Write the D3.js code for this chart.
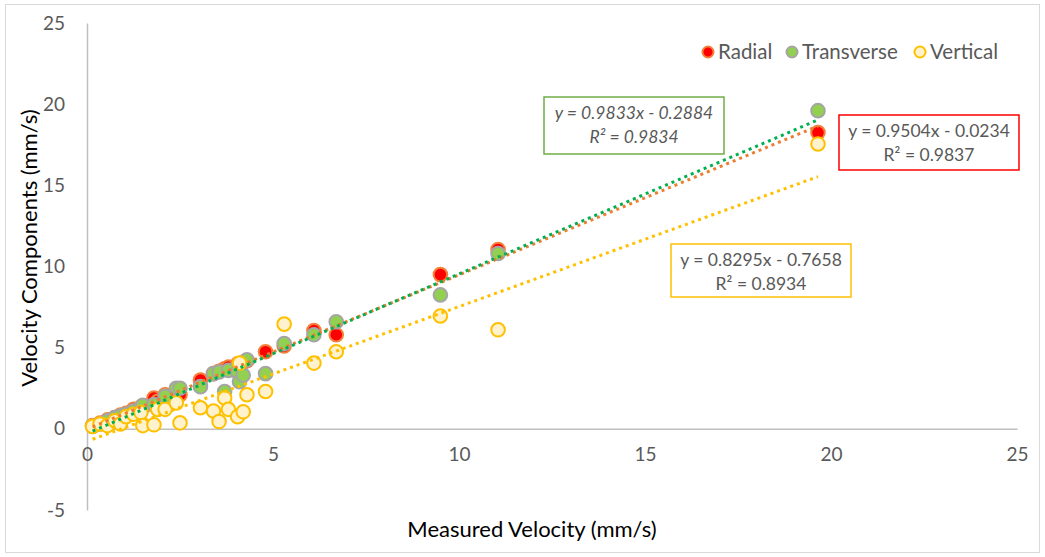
<!DOCTYPE html>
<html>
<head>
<meta charset="utf-8">
<script src="https://cdn.jsdelivr.net/npm/d3@7"></script>
<style>
  body { margin: 0; background: #fff; }
  svg { display: block; font-family: Lato, "Open Sans", sans-serif; }
</style>
</head>
<body>
<svg id="chart" width="1045" height="557"></svg>
<script>
// ---- Data ----
const measured   = [0.15, 0.35, 0.55, 0.75, 0.9, 1.05, 1.25, 1.45, 1.5, 1.8, 1.9, 2.1, 2.4, 2.5, 3.05, 3.4, 3.55, 3.7, 3.8, 4.05, 4.1, 4.2, 4.3, 4.8, 5.3, 6.1, 6.7, 9.5, 11.05, 19.65];
const radial     = [0.2, 0.35, 0.55, 0.7, 0.85, 0.95, 1.2, 1.35, 1.3, 1.9, 1.7, 2.1, 2.3, 2.1, 3.0, 3.4, 3.55, 3.7, 3.8, 4.0, 3.9, 4.1, 4.2, 4.75, 5.1, 6.05, 5.8, 9.5, 11.05, 18.25];
const transverse = [0.15, 0.3, 0.5, 0.7, 0.8, 0.9, 1.1, 1.3, 1.45, 1.5, 1.2, 2.0, 2.5, 2.5, 2.6, 3.4, 3.5, 2.3, 3.6, 3.5, 2.9, 3.3, 4.25, 3.4, 5.25, 5.8, 6.6, 8.25, 10.8, 19.6];
const vertical   = [0.15, 0.3, 0.2, 0.5, 0.3, 0.75, 0.9, 1.0, 0.2, 0.25, 1.2, 1.2, 1.6, 0.37, 1.3, 1.1, 0.45, 1.9, 1.2, 0.75, 4.05, 1.05, 2.1, 2.3, 6.45, 4.05, 4.75, 6.95, 6.1, 17.55];
const seriesNames = ["Radial", "Transverse", "Vertical"];
const slopes      = [0.9504, 0.9833, 0.8295];
const intercepts  = [-0.0234, -0.2884, -0.7658];
const rSquared    = [0.9837, 0.9834, 0.8934];
const xTicks = [0, 5, 10, 15, 20, 25];
const yTicks = [-5, 0, 5, 10, 15, 20, 25];

// ---- Styles ----
const markerFill   = ["#FF0000", "#92D050", "#FFF2CC"];
const markerStroke = ["#F4803A", "#A5A5A5", "#FFC000"];
const trendColor   = ["#ED7D31", "#00B050", "#FFC000"];
const textGray = "#595959";

const svg = d3.select("#chart");
svg.append("rect").attr("x", 5.5).attr("y", 4.5).attr("width", 1034).attr("height", 548)
  .attr("fill", "#fff").attr("stroke", "#D9D9D9").attr("stroke-width", 1);

const x = d3.scaleLinear().domain([0, 25]).range([87, 1017]);
const y = d3.scaleLinear().domain([-5, 25]).range([510, 23]);

// axes
const yAxis = svg.append("g").attr("transform", `translate(${x(0)},0)`)
  .call(d3.axisLeft(y).tickValues(yTicks).tickSize(0).tickPadding(22).tickFormat(d => String(d)));
yAxis.select(".domain").attr("stroke", "#BFBFBF").attr("stroke-width", 1.5);
yAxis.selectAll("text").attr("fill", textGray).style("font-size", "19px").style("font-family", "Lato, sans-serif");

const xAxis = svg.append("g").attr("transform", `translate(0,${y(0)})`)
  .call(d3.axisBottom(x).tickValues(xTicks).tickSize(0).tickPadding(19).tickFormat(d => String(d)));
xAxis.select(".domain").attr("stroke", "#BFBFBF").attr("stroke-width", 1.5);
xAxis.selectAll("text").attr("fill", textGray).style("font-size", "19px").style("font-family", "Lato, sans-serif");

// axis titles
svg.append("text").attr("x", 532).attr("y", 537).attr("text-anchor", "middle")
  .attr("fill", "#000").style("font-size", "22px").text("Measured Velocity (mm/s)");
svg.append("text").attr("transform", "translate(37,248) rotate(-90)").attr("text-anchor", "middle")
  .attr("fill", "#000").style("font-size", "22px").text("Velocity Components (mm/s)");

// markers
const allY = [radial, transverse, vertical];
allY.forEach((vals, s) => {
  svg.append("g").selectAll("circle").data(measured.map((m, i) => [m, vals[i]]))
    .join("circle")
    .attr("cx", d => x(d[0])).attr("cy", d => y(d[1])).attr("r", 6.8)
    .attr("fill", markerFill[s]).attr("stroke", markerStroke[s]).attr("stroke-width", 2);
});

// trendlines
const xmin = d3.min(measured), xmax = d3.max(measured);
slopes.forEach((m, s) => {
  const b = intercepts[s];
  svg.append("line")
    .attr("x1", x(xmin)).attr("y1", y(m * xmin + b))
    .attr("x2", x(xmax)).attr("y2", y(m * xmax + b))
    .attr("stroke", trendColor[s]).attr("stroke-width", 3)
    .attr("stroke-dasharray", "3 4");
});

// equation boxes
const fmt = v => v.toFixed(4);
const eqText = s => `y = ${fmt(slopes[s])}x ${intercepts[s] < 0 ? "-" : "+"} ${fmt(Math.abs(intercepts[s]))}`;
const boxes = [
  { s: 0, x0: 839, y0: 115, w: 180, h: 55, italic: false, border: "#FF0000" },
  { s: 1, x0: 544, y0: 97, w: 180, h: 57, italic: true, border: "#70AD47" },
  { s: 2, x0: 671, y0: 244, w: 180, h: 53, italic: false, border: "#FFC000" }
];
boxes.forEach(bx => {
  const g = svg.append("g");
  g.append("rect").attr("x", bx.x0).attr("y", bx.y0).attr("width", bx.w).attr("height", bx.h)
    .attr("fill", "#fff").attr("stroke", bx.border).attr("stroke-width", 1.5);
  const cx = bx.x0 + bx.w / 2;
  g.append("text").attr("x", cx).attr("y", bx.y0 + 22).attr("text-anchor", "middle")
    .attr("fill", textGray).style("font-size", "17.5px").style("font-style", bx.italic ? "italic" : "normal")
    .text(eqText(bx.s));
  g.append("text").attr("x", cx).attr("y", bx.y0 + 46).attr("text-anchor", "middle")
    .attr("fill", textGray).style("font-size", "17.5px").style("font-style", bx.italic ? "italic" : "normal")
    .text(`R² = ${fmt(rSquared[bx.s])}`);
});

// legend
const legendX = [708, 792, 920];
seriesNames.forEach((name, s) => {
  svg.append("circle").attr("cx", legendX[s]).attr("cy", 52).attr("r", 5.5)
    .attr("fill", markerFill[s]).attr("stroke", markerStroke[s]).attr("stroke-width", 2);
  svg.append("text").attr("x", legendX[s] + 10).attr("y", 59)
    .attr("fill", textGray).style("font-size", "20.5px").text(name);
});
</script>
</body>
</html>
